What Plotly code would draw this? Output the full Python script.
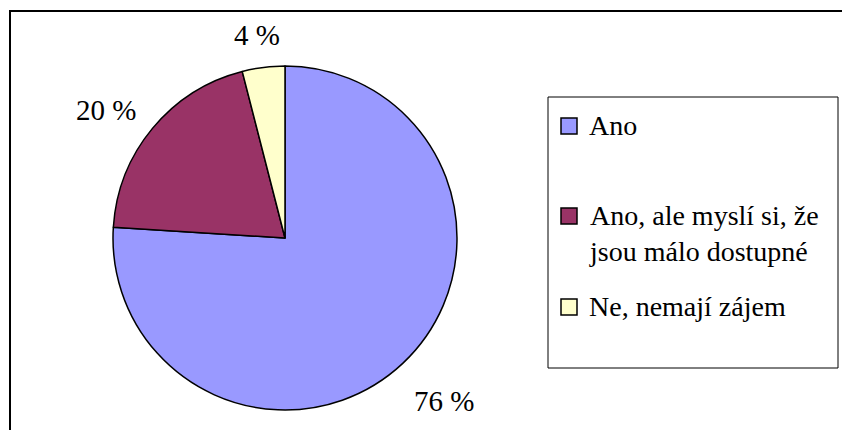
import math
import plotly.graph_objects as go

# Survey answers and their shares (percent)
labels = ["Ano", "Ano, ale myslí si, že<br>jsou málo dostupné", "Ne, nemají zájem"]
values = [76, 20, 4]
colors = ["#9999FF", "#993366", "#FFFFCC"]

W, H = 842, 430
SERIF = "Liberation Serif"

fig = go.Figure()

# Pie centred at (285, 238) px with radius 172 px
cx, cy, r = 285, 238, 172
fig.add_trace(go.Pie(
    labels=labels,
    values=values,
    sort=False,
    direction="clockwise",
    rotation=0,
    marker=dict(colors=colors, line=dict(color="black", width=1.5)),
    textinfo="none",
    domain=dict(x=[(cx - r) / W, (cx + r) / W], y=[1 - (cy + r) / H, 1 - (cy - r) / H]),
    showlegend=False,
    hoverinfo="label+percent",
))

shapes = []
annotations = []

# Percentage labels outside each slice, along the slice's mid-angle
total = sum(values)
cum = 0
gap = 30
for v in values:
    mid = 2 * math.pi * (cum + v / 2) / total  # clockwise from 12 o'clock
    cum += v
    ux, uy = math.sin(mid), -math.cos(mid)
    txt = f"{v} %"
    tw = 15 * len(txt)
    th = 22
    px = cx + ux * (r + gap) + ux * tw / 2
    py = cy + uy * (r + gap) + uy * th / 2 + 8
    annotations.append(dict(xref="paper", yref="paper", x=px / W, y=1 - py / H,
                            xanchor="center", yanchor="middle", text=txt,
                            showarrow=False,
                            font=dict(family=SERIF, size=29, color="black")))

# Outer chart frame
shapes.append(dict(type="rect", xref="paper", yref="paper",
                   x0=10 / W, x1=1.02, y0=-0.05, y1=1 - 11 / H,
                   line=dict(color="black", width=2), fillcolor="rgba(0,0,0,0)"))

# Legend frame
lx0, lx1, ly0, ly1 = 548, 838, 97, 368
shapes.append(dict(type="rect", xref="paper", yref="paper",
                   x0=lx0 / W, x1=lx1 / W, y0=1 - ly1 / H, y1=1 - ly0 / H,
                   line=dict(color="black", width=1), fillcolor="white"))

# Legend entries: swatch + label, first text line aligned with swatch
legend_size = 28
entry_y = [126, 216, 307]
line_h = 1.3 * legend_size
for lab, col, yc in zip(labels, colors, entry_y):
    shapes.append(dict(type="rect", xref="paper", yref="paper",
                       x0=561 / W, x1=577 / W, y0=1 - (yc + 8) / H, y1=1 - (yc - 8) / H,
                       line=dict(color="black", width=1.5), fillcolor=col))
    annotations.append(dict(xref="paper", yref="paper",
                            x=587 / W, y=1 - (yc - line_h / 2) / H,
                            xanchor="left", yanchor="top", align="left",
                            text=lab, showarrow=False,
                            font=dict(family=SERIF, size=legend_size, color="black")))

fig.update_layout(
    width=W, height=H,
    margin=dict(l=0, r=0, t=0, b=0),
    paper_bgcolor="white",
    plot_bgcolor="white",
    font=dict(family=SERIF, color="black"),
    shapes=shapes,
    annotations=annotations,
)

fig.write_html("out.html")
